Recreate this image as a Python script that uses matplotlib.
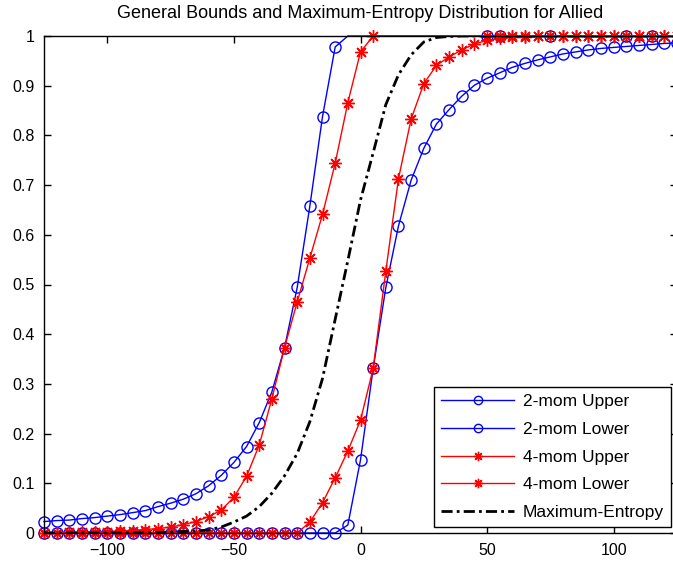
import numpy as np
import matplotlib
matplotlib.use("Agg")
import matplotlib.pyplot as plt

plt.rcParams['font.family'] = ['Liberation Sans', 'DejaVu Sans']

x = [-125, -120, -115, -110, -105, -100, -95, -90, -85, -80, -75, -70, -65, -60, -55,
     -50, -45, -40, -35, -30, -25, -20, -15, -10, -5, 0, 5, 10, 15, 20, 25, 30, 35, 40,
     45, 50, 55, 60, 65, 70, 75, 80, 85, 90, 95, 100, 105, 110, 115, 120, 125]

mom2_upper = [0.023, 0.025, 0.026, 0.029, 0.031, 0.034, 0.037, 0.041, 0.045, 0.053, 0.060,
              0.068, 0.079, 0.095, 0.116, 0.142, 0.174, 0.222, 0.284, 0.373, 0.494, 0.658,
              0.838, 0.978, 1.0] + [1.0] * 26

mom2_lower = [0.0] * 24 + [0.016, 0.147, 0.331, 0.494, 0.618, 0.710, 0.774, 0.823, 0.852,
                           0.879, 0.901, 0.915, 0.926, 0.937, 0.945, 0.952, 0.958, 0.964,
                           0.968, 0.972, 0.975, 0.977, 0.979, 0.981, 0.983, 0.985, 0.986]

mom4_upper = [0.001, 0.001, 0.002, 0.002, 0.003, 0.003, 0.004, 0.005, 0.007, 0.009, 0.012,
              0.017, 0.023, 0.033, 0.046, 0.072, 0.114, 0.177, 0.270, 0.373, 0.465, 0.553,
              0.641, 0.744, 0.866, 0.968] + [1.0] * 25

mom4_lower = [0.0] * 21 + [0.022, 0.061, 0.111, 0.165, 0.227, 0.331, 0.527, 0.713, 0.833,
                           0.904, 0.941, 0.958, 0.972, 0.984, 0.991, 0.995, 0.997, 0.998,
                           0.999] + [1.0] * 11

max_entropy = [0, 0, 0, 0, 0, 0, 0, 0, 0.001, 0.001, 0.002, 0.003, 0.004,
               0.006, 0.012, 0.022, 0.034, 0.053, 0.080, 0.115, 0.160, 0.224, 0.311,
               0.430, 0.548, 0.670, 0.765, 0.862, 0.922, 0.962, 0.988, 0.997, 0.999] + [1.0] * 18

# points whose markers sit exactly on the top edge and remain visible
mom2_upper_top_marks = [50, 55, 75, 105, 115]

labels = ['2-mom Upper', '2-mom Lower', '4-mom Upper', '4-mom Lower', 'Maximum-Entropy']
title = 'General Bounds and Maximum-Entropy Distribution for Allied'

xa = np.array(x)
mask_u2 = list((xa <= -10) | np.isin(xa, mom2_upper_top_marks))
mask_u4 = list((xa <= 5) | (xa >= 50))

fig = plt.figure(figsize=(6.73, 5.62), dpi=100)
ax = fig.add_axes([44 / 673, 29 / 562, (677 - 44) / 673, (533 - 36) / 562])

blue = (0, 0, 1)
red = (1, 0, 0)
star = (8, 2, 0)

ax.plot(x, mom2_upper, '-', color=blue, lw=1, marker='o', ms=8, mfc='none', mew=1,
        markevery=mask_u2, clip_on=False, label=labels[0])
ax.plot(x, mom2_lower, '-', color=blue, lw=1, marker='o', ms=8, mfc='none', mew=1,
        clip_on=False, label=labels[1])
ax.plot(x, mom4_upper, '-', color=red, lw=1, marker=star, ms=9, mew=1,
        markevery=mask_u4, clip_on=False, label=labels[2])
ax.plot(x, mom4_lower, '-', color=red, lw=1, marker=star, ms=9, mew=1,
        clip_on=False, label=labels[3])
ax.plot(x, max_entropy, color='black', lw=2, linestyle=(0, (4, 1.5, 1, 1.5)),
        label=labels[4])

ax.set_xlim(-125, 125)
ax.set_ylim(0, 1)
ax.set_xticks([-100, -50, 0, 50, 100])
ax.set_yticks([0, 0.1, 0.2, 0.3, 0.4, 0.5, 0.6, 0.7, 0.8, 0.9, 1])
ax.set_yticklabels(['0', '0.1', '0.2', '0.3', '0.4', '0.5', '0.6', '0.7', '0.8', '0.9', '1'])
ax.tick_params(direction='in', length=5, width=1, top=True, right=True,
               labelsize=11.5, pad=7)
for s in ax.spines.values():
    s.set_linewidth(1)
    s.set_color('black')

ax.set_title(title, fontsize=13, pad=13)

leg = ax.legend(loc='lower right', bbox_to_anchor=(671 / 673, 1 - 527 / 562),
                bbox_transform=fig.transFigure, fontsize=12.5, handlelength=4.2,
                labelspacing=0.72, fancybox=False, framealpha=1, edgecolor='black',
                borderpad=0.4, handletextpad=0.5, borderaxespad=0, markerscale=0.75)
leg.get_frame().set_linewidth(1)

fig.savefig('out.png', dpi=100)
